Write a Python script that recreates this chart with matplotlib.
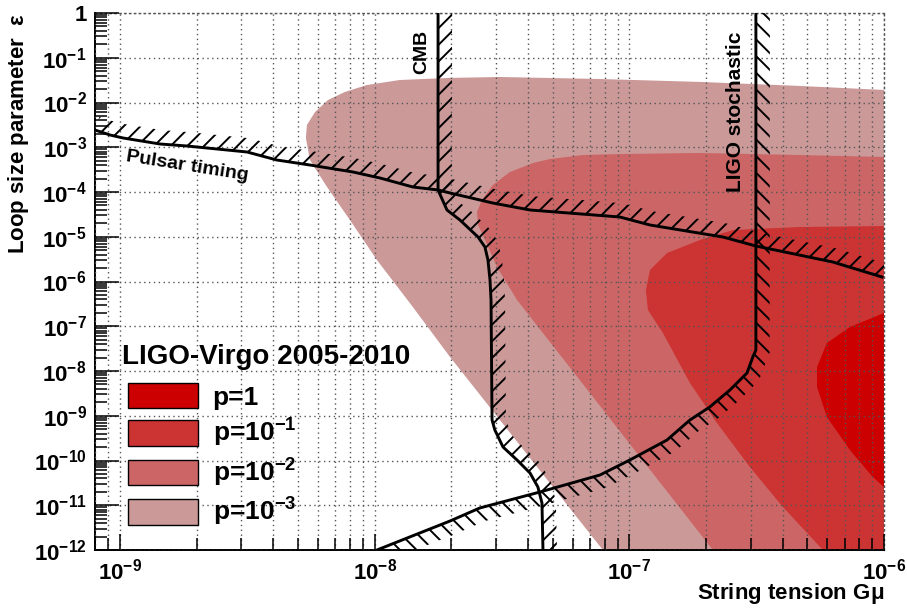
import numpy as np
import matplotlib
matplotlib.use('Agg')
import matplotlib.pyplot as plt
from matplotlib.patches import Patch
from matplotlib.ticker import LogLocator, FixedLocator, FuncFormatter, NullFormatter

plt.rcParams['font.family'] = 'Liberation Sans'
plt.rcParams['font.weight'] = 'bold'
plt.rcParams['axes.labelweight'] = 'bold'
plt.rcParams['mathtext.fontset'] = 'custom'
plt.rcParams['mathtext.rm'] = 'Liberation Sans'
plt.rcParams['mathtext.bf'] = 'Liberation Sans:bold'
plt.rcParams['mathtext.default'] = 'bf'
plt.rcParams['hatch.linewidth'] = 1.4

# plot range in log10(G mu) and log10(epsilon)
LGMU_MIN, LGMU_MAX = -9.098, -6.0
LEPS_MIN, LEPS_MAX = -12.0, 0.0
x_decades = [-9, -8, -7, -6]
y_decades = list(range(-12, 1))

# excluded regions, log10 values, each closed along the right edge
p3_lgmu = [-6.0, -6.33, -6.723, -7.115, -7.508, -7.704, -7.901, -8.03, -8.117, -8.183,
           -8.234, -8.266, -8.27, -8.254, -8.187, -8.097, -7.991, -7.85, -7.704, -7.104, -6.0]
p3_leps = [-1.72, -1.63, -1.54, -1.475, -1.43, -1.45, -1.497, -1.609, -1.765, -1.944,
           -2.212, -2.503, -2.793, -3.285, -3.888, -4.626, -5.52, -6.57, -7.687, -12.0, -12.0]

p2_lgmu = [-6.0, -6.33, -6.723, -7.037, -7.182, -7.312, -7.378, -7.469, -7.536, -7.579,
           -7.598, -7.594, -7.575, -7.52, -7.441, -6.672, -6.0]
p2_leps = [-3.218, -3.173, -3.128, -3.151, -3.173, -3.263, -3.352, -3.553, -3.844, -4.179,
           -4.447, -4.737, -4.961, -5.676, -6.413, -12.0, -12.0]

p1_lgmu = [-6.0, -6.33, -6.593, -6.723, -6.852, -6.919, -6.935, -6.927, -6.868, -6.762,
           -6.656, -6.527, -6.397, -6.24, -6.0]
p1_leps = [-4.76, -4.782, -4.849, -5.073, -5.363, -5.743, -6.19, -6.637, -7.151, -8.268,
           -9.162, -10.145, -11.039, -12.0, -12.0]

p0_lgmu = [-6.0, -6.134, -6.224, -6.263, -6.263, -6.224, -6.134, -6.044, -6.0]
p0_leps = [-6.704, -7.017, -7.374, -7.911, -8.358, -9.028, -9.765, -10.369, -10.592]

# exclusion curves
pulsar_lgmu = [-9.098, -9.039, -8.988, -8.843, -8.737, -8.501, -8.384, -8.254, -8.085, -7.979,
               -7.85, -7.751, -7.704, -7.536, -7.39, -7.037, -6.919, -6.632, -6.503, -6.201, -6.008]
pulsar_leps = [-2.615, -2.726, -2.793, -2.927, -2.972, -3.106, -3.285, -3.397, -3.553, -3.687,
               -3.888, -3.955, -4.022, -4.246, -4.402, -4.559, -4.737, -5.006, -5.207, -5.564, -5.899]

cmb_lgmu = [-7.751, -7.751, -7.716, -7.665, -7.594, -7.567, -7.555, -7.547, -7.543, -7.539,
            -7.528, -7.496, -7.441, -7.39, -7.359, -7.343, -7.339]
cmb_leps = [0.0, -3.955, -4.402, -4.626, -5.006, -5.229, -5.52, -5.966, -6.413, -9.095,
            -9.318, -9.698, -9.989, -10.279, -10.592, -10.95, -12.0]

ligo_lgmu = [-7.991, -7.704, -7.587, -7.351, -7.115, -6.998, -6.852, -6.762, -6.684, -6.605,
             -6.538, -6.515, -6.503, -6.503]
ligo_leps = [-12.0, -11.352, -11.061, -10.704, -10.324, -9.989, -9.542, -9.095, -8.804, -8.425,
             -8.045, -7.687, -7.531, 0.0]

region_colors = ['#cc0000', '#cc3333', '#cc6666', '#cc9999']
region_labels = ['p=1', 'p=10$^{-1}$', 'p=10$^{-2}$', 'p=10$^{-3}$']


def log_fmt(v, pos):
    e = int(round(np.log10(v)))
    return '1' if e == 0 else r'$10^{%d}$' % e


def hatch_band(ax, lgmu, leps, side, hatch, width=14):
    # band of hatching on one side of a curve, built in pixel space
    xy = ax.transData.transform(np.column_stack([10 ** np.asarray(lgmu), 10 ** np.asarray(leps)]))
    seg = np.diff(xy, axis=0)
    seg /= np.hypot(seg[:, 0], seg[:, 1])[:, None]
    tan = np.vstack([seg[:1], seg[:-1] + seg[1:], seg[-1:]])
    tan /= np.hypot(tan[:, 0], tan[:, 1])[:, None]
    nrm = side * np.column_stack([-tan[:, 1], tan[:, 0]])
    band = np.vstack([xy, (xy + width * nrm)[::-1]])
    gx, gy = ax.transData.inverted().transform(band).T
    ax.fill(gx, gy, facecolor='none', edgecolor='black', lw=0, hatch=hatch, zorder=3)
    ax.plot(10 ** np.asarray(lgmu), 10 ** np.asarray(leps), color='black', lw=2.1, zorder=4)


fig = plt.figure(figsize=(9.07, 6.12), dpi=100)
ax = fig.add_axes([95 / 907, 62 / 612, 789 / 907, 537 / 612])
ax.set_xscale('log')
ax.set_yscale('log')
ax.set_xlim(10 ** LGMU_MIN, 10 ** LGMU_MAX)
ax.set_ylim(10 ** LEPS_MIN, 10 ** LEPS_MAX)

regions = [(p3_lgmu, p3_leps), (p2_lgmu, p2_leps), (p1_lgmu, p1_leps), (p0_lgmu, p0_leps)]
for (gx, gy), col in zip(regions, region_colors[::-1]):
    ax.fill(10 ** np.array(gx), 10 ** np.array(gy), color=col, lw=0, zorder=1)

hatch_band(ax, pulsar_lgmu, pulsar_leps, +1, '//')
hatch_band(ax, cmb_lgmu, cmb_leps, +1, '//')
hatch_band(ax, ligo_lgmu, ligo_leps, -1, '\\\\')

ax.text(10 ** -8.737, 10 ** -3.42, 'Pulsar timing', rotation=-9, fontsize=14,
        ha='center', va='center', zorder=5)
ax.text(10 ** -7.814, 10 ** -0.872, 'CMB', rotation=90, fontsize=14,
        ha='center', va='center', zorder=5)
ax.text(10 ** -6.585, 10 ** -2.212, 'LIGO stochastic', rotation=90, fontsize=15,
        ha='center', va='center', zorder=5)

# axes, ticks and grid
ax.xaxis.set_major_locator(FixedLocator(10.0 ** np.array(x_decades)))
ax.yaxis.set_major_locator(FixedLocator(10.0 ** np.array(y_decades)))
for axis in (ax.xaxis, ax.yaxis):
    axis.set_minor_locator(LogLocator(base=10, subs=np.arange(2, 10), numticks=30))
    axis.set_major_formatter(FuncFormatter(log_fmt))
    axis.set_minor_formatter(NullFormatter())
ax.tick_params(which='both', direction='in', top=False, right=False, labelsize=16, width=1.1)
ax.tick_params(axis='y', which='major', length=17, pad=6)
ax.tick_params(axis='y', which='minor', length=8.5)
ax.tick_params(axis='x', which='major', length=11.5, pad=6)
ax.tick_params(axis='x', which='minor', length=8.5)
ax.set_axisbelow(False)
ax.grid(True, axis='x', which='both', ls=(0, (1, 2.5)), lw=1.0, color='#555555')
ax.grid(True, axis='y', which='major', ls=(0, (1, 2.5)), lw=1.0, color='#555555')
for s in ('left', 'bottom'):
    ax.spines[s].set_linewidth(1.4)
for s in ('top', 'right'):
    ax.spines[s].set_linestyle((0, (1, 2.5)))
    ax.spines[s].set_color('#555555')
    ax.spines[s].set_linewidth(1.0)

ax.set_ylabel('Loop size parameter  $\\mathrm{ε}$', fontsize=16, loc='top')
ax.yaxis.set_label_coords(-0.081, 1.0)
ax.set_xlabel('String tension G$\\mathrm{μ}$', fontsize=16, loc='right')
ax.xaxis.set_label_coords(1.0, -0.058)

ax.text(0.034, 0.347, 'LIGO-Virgo 2005-2010', transform=ax.transAxes, fontsize=20,
        ha='left', va='baseline', zorder=5)
handles = [Patch(facecolor=c, edgecolor='black', lw=1.0, label=l)
           for c, l in zip(region_colors, region_labels)]
ax.legend(handles=handles, loc='upper left', bbox_to_anchor=(0.042, 0.311),
          frameon=False, borderpad=0, borderaxespad=0,
          prop={'weight': 'bold', 'size': 19},
          handlelength=2.65, handleheight=1.1, handletextpad=0.55, labelspacing=0.28)

fig.savefig('out.png', dpi=100)
